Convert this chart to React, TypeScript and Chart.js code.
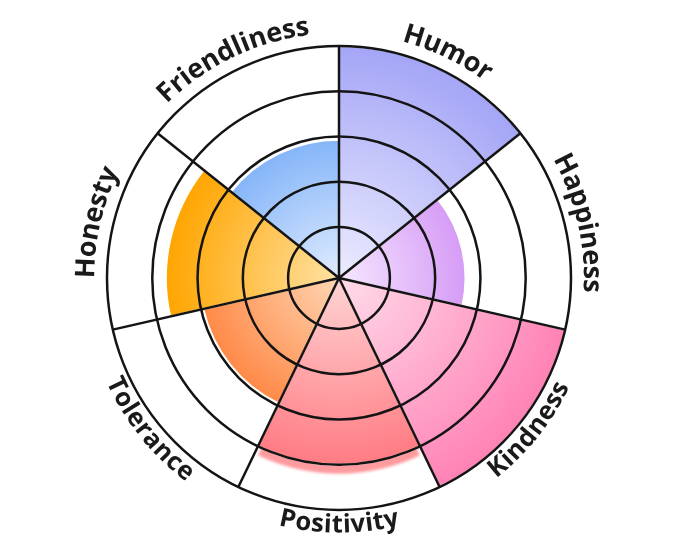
import React, { useEffect, useRef } from 'react';
import { Chart, registerables } from 'chart.js';

Chart.register(...registerables);

const categories = ['Humor', 'Happiness', 'Kindness', 'Positivity', 'Tolerance', 'Honesty', 'Friendliness'];
const values = [5, 2.67, 5, 4, 2.95, 3.7, 2.93];
const tickValues = [1, 2, 3, 4, 5];
const scaleMin = -0.124;
const scaleMax = 5;
const outerColors = ['#a4a5f6', '#d69cf6', '#ff82b5', '#ff7c84', '#ff8a48', '#ffa500', '#85b5f8'];
const innerColors = ['#ececff', '#f6e8ff', '#ffdcea', '#ffd4d4', '#ffd6b4', '#ffe2a4', '#e0ecff'];
const shadowIndex = 3;

const shadowPlugin = {
  id: 'arcShadow',
  beforeDatasetsDraw(chart: any) {
    const meta = chart.getDatasetMeta(0);
    const el = meta.data[shadowIndex];
    if (!el) return;
    const { x, y, startAngle, endAngle, outerRadius } = el.getProps(['x', 'y', 'startAngle', 'endAngle', 'outerRadius'], true);
    const ctx = chart.ctx;
    ctx.save();
    ctx.shadowColor = 'rgba(255, 120, 125, 0.75)';
    ctx.shadowBlur = 3;
    ctx.shadowOffsetY = 9;
    ctx.beginPath();
    ctx.moveTo(x, y);
    ctx.arc(x, y, outerRadius, startAngle, endAngle);
    ctx.closePath();
    ctx.fillStyle = outerColors[shadowIndex];
    ctx.fill();
    ctx.restore();
  },
};

const curvedLabels = {
  id: 'curvedLabels',
  afterDraw(chart: any) {
    const s = chart.scales.r;
    if (!s) return;
    const ctx = chart.ctx;
    const n = categories.length;
    const step = (2 * Math.PI) / n;
    ctx.save();
    ctx.fillStyle = '#1a1a1a';
    ctx.textAlign = 'center';
    ctx.textBaseline = 'alphabetic';
    categories.forEach((label, i) => {
      const mid = s.getIndexAngle(i) - Math.PI / 2 + step / 2;
      const norm = ((mid % (2 * Math.PI)) + 2 * Math.PI) % (2 * Math.PI);
      const flip = norm > 0.05 && norm < Math.PI - 0.05;
      const size = flip ? 25.5 : 27;
      const capH = size * 0.714;
      ctx.font = `bold ${size}px "Open Sans"`;
      const R = s.drawingArea + (flip ? 13.5 : 22.5);
      const spread = flip ? 1.0 : 1.03;
      const Rs = R / spread;
      const chars = Array.from(label);
      const widths = chars.map((ch) => ctx.measureText(ch).width);
      const total = widths.reduce((a, b) => a + b, 0);
      const span = total / Rs;
      let a = flip ? mid + span / 2 : mid - span / 2;
      chars.forEach((ch, k) => {
        const half = widths[k] / 2 / Rs;
        a = flip ? a - half : a + half;
        ctx.save();
        ctx.translate(s.xCenter + R * Math.cos(a), s.yCenter + R * Math.sin(a));
        ctx.rotate(flip ? a - Math.PI / 2 : a + Math.PI / 2);
        ctx.fillText(ch, 0, capH / 2);
        ctx.restore();
        a = flip ? a - half : a + half;
      });
    });
    ctx.restore();
  },
};

export default function App() {
  const ref = useRef<HTMLCanvasElement | null>(null);

  useEffect(() => {
    if (!ref.current) return;
    const chart = new Chart(ref.current, {
      type: 'polarArea',
      data: {
        labels: categories,
        datasets: [
          {
            data: values,
            backgroundColor: (c: any) => {
              const idx = c.dataIndex ?? 0;
              const chart = c.chart;
              const s = chart.scales && chart.scales.r;
              if (!s || !s.drawingArea) return outerColors[idx];
              const rad = Math.max(1, s.getDistanceFromCenterForValue(values[idx]));
              const g = chart.ctx.createRadialGradient(s.xCenter, s.yCenter, 0, s.xCenter, s.yCenter, rad);
              g.addColorStop(0, innerColors[idx]);
              g.addColorStop(1, outerColors[idx]);
              return g;
            },
            borderColor: '#ffffff',
            borderWidth: 2,
          },
        ],
      },
      options: {
        responsive: false,
        animation: false,
        devicePixelRatio: 1,
        layout: { padding: { top: 46, bottom: 47, left: 0, right: 2 } },
        plugins: {
          legend: { display: false },
          tooltip: { enabled: false },
        },
        scales: {
          r: {
            min: scaleMin,
            max: scaleMax,
            afterBuildTicks: (scale: any) => {
              scale.ticks = tickValues.map((v) => ({ value: v }));
            },
            ticks: { display: false },
            grid: { display: true, circular: true, color: '#141414', lineWidth: 2.5, z: 1 },
            angleLines: { display: true, color: '#141414', lineWidth: 2.5 },
            pointLabels: { display: false },
          },
        },
      } as any,
      plugins: [shadowPlugin, curvedLabels],
    });
    return () => chart.destroy();
  }, []);

  return (
    <div style={{ position: 'fixed', left: 0, top: 0, width: 680, height: 557, background: '#fff' }}>
      <canvas ref={ref} width={680} height={557} style={{ display: 'block' }} />
    </div>
  );
}
